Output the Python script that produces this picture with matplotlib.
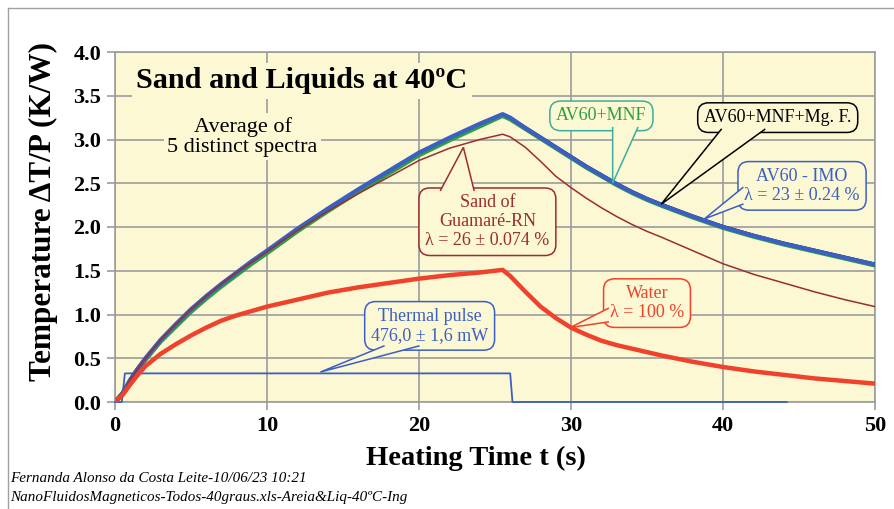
import matplotlib
matplotlib.use("Agg")
import matplotlib.pyplot as plt
from matplotlib.lines import Line2D
from matplotlib.patches import Polygon

plt.rcParams['font.family'] = ['Liberation Serif', 'DejaVu Serif']

# time axis shared by the four heating curves (s)
t_curve = [0, 0.5, 1, 1.5, 2, 3, 4, 5, 6, 7, 8, 9, 10, 12, 14, 16, 18, 20, 22, 24,
           25.5, 26, 27, 28, 29, 30, 31, 32, 33, 34, 35, 36, 38, 40, 42, 44, 46, 48, 50]

av60_imo = [0, 0.10, 0.25, 0.38, 0.50, 0.71, 0.89, 1.06, 1.21, 1.35, 1.48, 1.61, 1.73,
            1.98, 2.21, 2.43, 2.64, 2.85, 3.02, 3.18, 3.29, 3.25, 3.13, 3.02, 2.91,
            2.80, 2.69, 2.59, 2.49, 2.40, 2.32, 2.25, 2.12, 2.00, 1.90, 1.81, 1.73,
            1.65, 1.57]
av60_mnf = [0, 0.10, 0.24, 0.37, 0.48, 0.69, 0.86, 1.03, 1.18, 1.32, 1.45, 1.58, 1.70,
            1.95, 2.18, 2.40, 2.61, 2.82, 2.99, 3.15, 3.27, 3.23, 3.12, 3.01, 2.90,
            2.79, 2.68, 2.58, 2.48, 2.39, 2.31, 2.24, 2.11, 1.99, 1.89, 1.80, 1.72,
            1.64, 1.56]
av60_mnf_mg = [0, 0.10, 0.25, 0.38, 0.49, 0.70, 0.88, 1.05, 1.20, 1.34, 1.47, 1.60, 1.72,
               1.97, 2.20, 2.42, 2.63, 2.84, 3.01, 3.17, 3.28, 3.24, 3.13, 3.02, 2.91,
               2.80, 2.69, 2.59, 2.49, 2.40, 2.32, 2.25, 2.12, 2.00, 1.90, 1.81, 1.73,
               1.65, 1.57]
sand = [0, 0.10, 0.25, 0.38, 0.50, 0.71, 0.89, 1.06, 1.21, 1.35, 1.48, 1.60, 1.72,
        1.96, 2.18, 2.38, 2.57, 2.76, 2.90, 3.00, 3.06, 3.03, 2.91, 2.75, 2.58,
        2.45, 2.33, 2.22, 2.12, 2.03, 1.95, 1.88, 1.73, 1.58, 1.46, 1.36, 1.26,
        1.17, 1.09]
water = [0, 0.08, 0.20, 0.31, 0.41, 0.55, 0.66, 0.76, 0.85, 0.93, 0.99, 1.04, 1.09,
         1.17, 1.25, 1.31, 1.36, 1.41, 1.45, 1.48, 1.51, 1.44, 1.26, 1.09, 0.96,
         0.85, 0.77, 0.70, 0.65, 0.61, 0.57, 0.53, 0.46, 0.40, 0.35, 0.31, 0.27,
         0.24, 0.21]

# thermal pulse (scaled)
t_pulse = [0, 0.45, 0.65, 26.0, 26.15, 44.2]
pulse = [0, 0, 0.327, 0.327, 0, 0]

x_ticks = [0, 10, 20, 30, 40, 50]
y_ticks = [0, 0.5, 1.0, 1.5, 2.0, 2.5, 3.0, 3.5, 4.0]

BG = '#fbf8d3'
GRID = '#9c9c9c'
BLUE = '#3b5fc4'
GREEN = '#2e9e3e'
SAND = '#9b2d30'
WATER = '#f0412c'
TEAL = '#3aaea0'

fig = plt.figure(figsize=(8.95, 5.09), dpi=100)
ax = fig.add_axes([115 / 895, 1 - 402 / 509, 760 / 895, 350 / 509])
ax.set_facecolor(BG)

# outer frame of the sheet
fig.add_artist(Line2D([8 / 895, 8 / 895], [0, 1 - 8 / 509], color='#a0a0a0', lw=1))
fig.add_artist(Line2D([8 / 895, 1], [1 - 8 / 509, 1 - 8 / 509], color='#a0a0a0', lw=1))

ax.plot(t_pulse, pulse, color=BLUE, lw=1.3, clip_on=False, zorder=3)
ax.plot(t_curve, av60_mnf_mg, color='black', lw=3.0, zorder=4)
ax.plot(t_curve, av60_mnf, color=GREEN, lw=3.0, zorder=5)
ax.plot(t_curve, av60_imo, color=BLUE, lw=3.0, zorder=6)
ax.plot(t_curve, sand, color=SAND, lw=1.1, zorder=7)
ax.plot(t_curve, water, color=WATER, lw=3.2, zorder=8)

ax.set_xlim(0, 50)
ax.set_ylim(0, 4)
ax.set_xticks(x_ticks)
ax.set_yticks(y_ticks)
ax.set_yticklabels([f"{v:.1f}" for v in y_ticks])
ax.grid(True, color=GRID, lw=1.2, zorder=0)
ax.set_axisbelow(True)
for s in ax.spines.values():
    s.set_color(GRID)
    s.set_linewidth(1.2)
ax.tick_params(direction='out', length=6, width=1.2, color=GRID,
               labelsize=16, pad=4)
for lab in ax.get_xticklabels() + ax.get_yticklabels():
    lab.set_fontweight('bold')

ax.set_xlabel("Heating Time t (s)", fontsize=20.5, fontweight='bold')
ax.xaxis.set_label_coords(0.475, -0.125)
ax.set_ylabel("Temperature ΔT/P (K/W)", fontsize=22.5, fontweight='bold')
ax.yaxis.set_label_coords(-0.075, 0.545)

ax.text(12.3, 3.67, "Sand and Liquids at 40ºC", fontsize=21.8, fontweight='bold',
        ha='center', va='center', zorder=9,
        bbox=dict(boxstyle='square,pad=0.15', fc=BG, ec='none'))
ax.text(8.4, 3.03, "Average of\n5 distinct spectra", fontsize=16,
        ha='center', va='center', linespacing=1.1, zorder=9,
        bbox=dict(boxstyle='square,pad=0.15', fc=BG, ec='none'))


def callout(text, center, pointer, color, edge, fs=13):
    # rounded box with a triangular pointer; pointer = (base1, tip, base2)
    ax.text(*center, text, fontsize=fs, color=color, ha='center', va='center',
            linespacing=1.15, zorder=10,
            bbox=dict(boxstyle='round,pad=0.35,rounding_size=0.6',
                      fc=BG, ec=edge, lw=1.1))
    ax.add_patch(Polygon(pointer, closed=True, fc=BG, ec='none', zorder=11))
    px = [p[0] for p in pointer]
    py = [p[1] for p in pointer]
    ax.plot(px, py, color=edge, lw=1.1, zorder=11, solid_joinstyle='miter')


callout("AV60+MNF", (32.0, 3.27),
        [(32.74, 3.135), (32.74, 2.50), (34.39, 3.135)], GREEN, TEAL)
callout("AV60+MNF+Mg. F.", (43.6, 3.25),
        [(39.88, 3.115), (35.93, 2.26), (42.74, 3.115)], 'black', 'black')
callout("AV60 - IMO\nλ = 23 ± 0.24 %", (45.2, 2.47),
        [(41.3, 2.45), (38.78, 2.093), (41.3, 2.26)], BLUE, BLUE)
callout("Sand of\nGuamaré-RN\nλ = 26 ± 0.074 %", (24.5, 2.06),
        [(21.42, 2.42), (22.92, 2.91), (23.62, 2.42)], SAND, SAND)
callout("Water\nλ = 100 %", (35.0, 1.13),
        [(32.45, 1.07), (29.95, 0.851), (32.45, 0.915)], WATER, WATER)
callout("Thermal pulse\n476,0 ± 1,6 mW", (20.7, 0.87),
        [(17.69, 0.64), (13.51, 0.342), (19.99, 0.64)], BLUE, BLUE)

fig.text(10 / 895, 1 - 479 / 509, "Fernanda Alonso da Costa Leite-10/06/23 10:21",
         fontsize=10.9, style='italic', va='center', ha='left')
fig.text(10 / 895, 1 - 497 / 509, "NanoFluidosMagneticos-Todos-40graus.xls-Areia&Liq-40ºC-Ing",
         fontsize=10.9, style='italic', va='center', ha='left')

fig.savefig("out.png", dpi=100, facecolor='white')
